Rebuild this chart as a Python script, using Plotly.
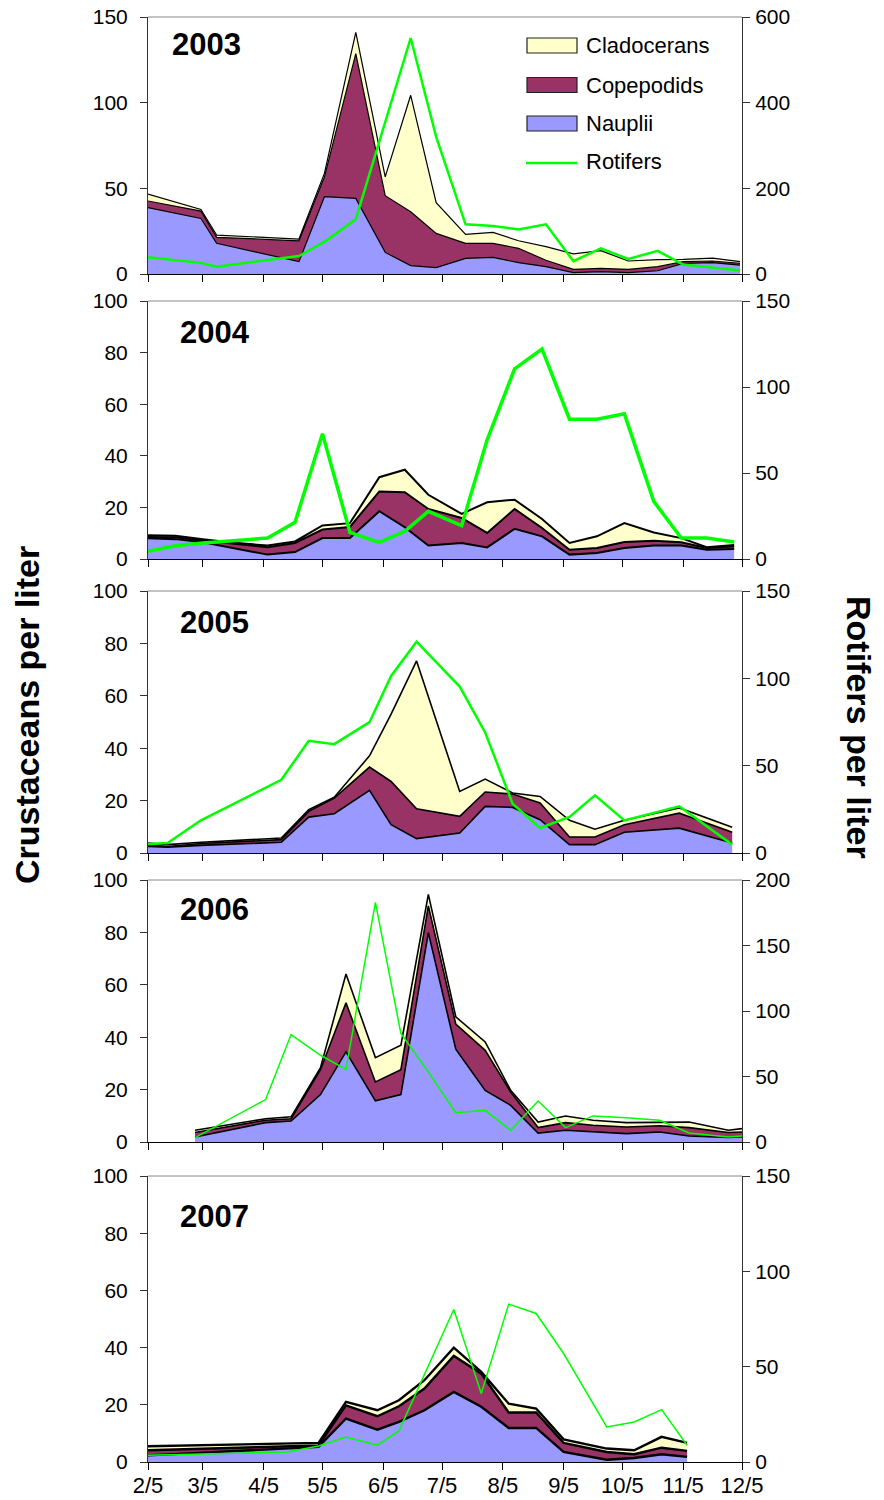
import plotly.graph_objects as go

# ---------------- data ----------------
YEARS = ["2003", "2004", "2005", "2006", "2007"]

dates_2003 = ["02-05", "03-04", "03-12", "04-23", "05-06", "05-22", "06-06", "06-19", "07-02", "07-17",
              "07-31", "08-13", "08-27", "09-10", "09-24", "10-08", "10-23", "11-05", "11-20", "12-04"]
nauplii_2003 = [38.7, 32.4, 17.9, 7.2, 45.1, 44.1, 12.6, 4.9, 3.7, 9.1, 9.7, 6.6, 4.3, 0.8, 1.4, 0.8, 1.9, 6.2, 6.6, 5.2]
copepodids_2003 = [3.9, 4.3, 3.5, 12.2, 11.6, 84.5, 33.1, 31.4, 20.0, 8.8, 8.2, 8.4, 3.7, 1.9, 1.9, 1.9, 2.4, 1.0, 1.0, 1.0]
cladocerans_2003 = [4.0, 1.0, 1.3, 1.0, 2.0, 12.4, 11.0, 68.0, 17.9, 5.2, 6.4, 4.4, 8.0, 9.0, 10.3, 4.9, 4.1, 1.3, 1.7, 1.0]
rot_dates_2003 = ["02-05", "03-04", "03-12", "04-23", "05-07", "05-22", "06-19", "07-02", "07-17", "07-31",
                  "08-13", "08-27", "09-10", "09-24", "10-08", "10-23", "11-05", "11-20", "12-04"]
rotifers_2003 = [39, 26, 17, 42, 78, 128, 551, 320, 116, 112, 104, 116, 30, 60, 35, 54, 22, 15, 8]

dates_2004 = ["02-05", "02-19", "03-05", "03-21", "04-07", "04-21", "05-05", "05-19", "06-03", "06-16", "06-28",
              "07-15", "07-28", "08-11", "08-25", "09-08", "09-22", "10-06", "10-21", "11-04", "11-17", "12-01"]
nauplii_2004 = [8.0, 7.7, 6.5, 4.3, 1.7, 2.7, 8.1, 8.1, 18.5, 12.3, 5.2, 6.2, 4.5, 11.7, 8.8, 1.7, 2.3, 4.3, 5.2, 5.2, 3.6, 3.9]
copepodids_2004 = [0.5, 0.7, 0.7, 1.6, 2.9, 3.5, 3.3, 4.3, 7.7, 13.6, 14.2, 9.7, 5.6, 7.7, 3.2, 1.9, 2.0, 2.3, 1.9, 1.3, 0.7, 1.0]
cladocerans_2004 = [0.7, 0.6, 0.5, 0.4, 0.6, 0.6, 1.6, 1.5, 5.5, 8.7, 5.5, 1.6, 11.9, 3.6, 3.5, 2.6, 4.5, 7.3, 3.2, 1.6, 0.3, 0.5]
rot_dates_2004 = dates_2004
rotifers_2004 = [4.5, 7.7, 9.3, 10.8, 12.2, 21.3, 72.8, 15.5, 9.7, 16.1, 27.7, 19.4, 69.3, 110.5, 122.1,
                 81.3, 81.3, 84.4, 33.5, 12.2, 12.2, 9.9]

dates_2005 = ["02-05", "02-15", "03-04", "04-14", "04-28", "05-11", "05-29", "06-09", "06-22", "07-14",
              "07-27", "08-10", "08-24", "09-08", "09-21", "10-06", "11-03", "11-30"]
nauplii_2005 = [2.5, 2.2, 2.9, 4.1, 13.7, 15.0, 23.9, 10.8, 5.5, 7.6, 17.8, 17.4, 12.7, 3.2, 3.2, 7.9, 9.5, 3.8]
copepodids_2005 = [0.7, 0.3, 0.7, 1.0, 2.2, 6.0, 8.9, 16.5, 11.4, 6.4, 5.5, 5.1, 6.4, 2.9, 2.9, 2.9, 5.7, 4.1]
cladocerans_2005 = [0.6, 0.7, 0.5, 0.6, 0.6, 0.3, 4.3, 25.7, 56.4, 9.5, 4.9, 0.4, 2.5, 6.4, 3.0, 1.7, 2.0, 1.9]
rot_dates_2005 = dates_2005
rotifers_2005 = [5.1, 5.7, 18.7, 41.9, 64.2, 62.3, 74.9, 101.4, 121.0, 95.3, 69.0, 28.2, 14.3, 20.6, 33.0, 18.7, 26.7, 4.8]

dates_2006 = ["03-01", "04-06", "04-19", "05-04", "05-17", "06-01", "06-14", "06-28", "07-12", "07-27",
              "08-09", "08-23", "09-06", "09-20", "10-07", "10-24", "11-08", "11-28", "12-05"]
nauplii_2006 = [1.9, 7.4, 8.0, 18.1, 34.4, 15.7, 18.1, 79.9, 35.4, 19.7, 14.0, 3.4, 4.5, 3.8, 3.2, 3.8, 2.3, 1.7, 1.9]
copepodids_2006 = [1.7, 0.9, 0.9, 9.5, 18.7, 7.2, 9.5, 10.2, 9.6, 15.3, 5.1, 2.1, 2.9, 2.6, 2.5, 2.4, 3.2, 1.9, 1.9]
cladocerans_2006 = [0.9, 0.6, 0.7, 0.8, 11.0, 9.3, 9.3, 4.4, 2.8, 3.2, 0.6, 2.1, 2.5, 1.9, 1.7, 1.4, 2.1, 0.9, 1.3]
rot_dates_2006 = dates_2006
rotifers_2006 = [3.3, 32.4, 82.0, 66.2, 55.5, 182.9, 82.8, 53.5, 22.4, 24.2, 8.9, 31.3, 11.0, 19.9, 18.6, 16.6, 6.9, 3.8, 4.6]

dates_2007 = ["02-05", "05-03", "05-17", "06-02", "06-13", "06-26", "07-11", "07-25", "08-08", "08-22",
              "09-05", "09-27", "10-11", "10-25", "11-07"]
nauplii_2007 = [2.3, 5.3, 15.2, 11.3, 14.0, 18.1, 24.5, 19.3, 11.9, 11.9, 3.5, 0.8, 1.4, 2.7, 1.8]
copepodids_2007 = [1.8, 0.5, 4.6, 4.7, 5.5, 7.6, 12.6, 11.6, 5.4, 5.4, 3.2, 2.7, 1.3, 2.3, 2.1]
cladocerans_2007 = [1.4, 0.9, 1.2, 2.1, 2.1, 2.9, 2.9, 0.6, 3.1, 1.4, 1.2, 1.2, 1.4, 3.8, 2.8]
rot_dates_2007 = ["02-05", "04-17", "05-03", "05-17", "06-02", "06-13", "07-11", "07-25", "08-08", "08-22",
                  "09-05", "09-27", "10-11", "10-25", "11-07"]
rotifers_2007 = [3.5, 5.3, 8.4, 13.1, 8.8, 16.3, 80.0, 35.9, 82.8, 77.9, 56.9, 18.4, 21.0, 27.5, 8.8]

month_ticks = ["02-05", "03-05", "04-05", "05-05", "06-05", "07-05", "08-05", "09-05", "10-05", "11-05", "12-05"]
month_labels = ["2/5", "3/5", "4/5", "5/5", "6/5", "7/5", "8/5", "9/5", "10/5", "11/5", "12/5"]

left_max = [150, 100, 100, 100, 100]
left_ticks = [[0, 50, 100, 150], [0, 20, 40, 60, 80, 100], [0, 20, 40, 60, 80, 100],
              [0, 20, 40, 60, 80, 100], [0, 20, 40, 60, 80, 100]]
right_max = [600, 150, 150, 200, 150]
right_ticks = [[0, 200, 400, 600], [0, 50, 100, 150], [0, 50, 100, 150], [0, 50, 100, 150, 200], [0, 50, 100, 150]]

# ---------------- style ----------------
C_NAUP = "#9999FF"
C_COPE = "#993366"
C_CLAD = "#FFFFCC"
C_ROT = "#00FF00"
FONT = "Liberation Sans, Arial, sans-serif"
outline_w = [1.2, 2.0, 1.6, 1.6, 2.4]
rot_w = [2.5, 3.5, 2.5, 1.5, 1.5]

W, H = 884, 1500
ML, MR, MT, MB = 148, 142, 17, 38
PW = W - ML - MR
PH = H - MT - MB
panels_px = [(17, 274), (301, 559), (591, 853), (880, 1142), (1176, 1462)]
year_px = [(170, 44.5), (178, 332), (178, 622), (178, 910), (178, 1216)]


def px_x(x):
    return (x - ML) / PW


def px_y(y):
    return (H - MB - y) / PH


YR = "2001-"
data = [
    (dates_2003, nauplii_2003, copepodids_2003, cladocerans_2003, rot_dates_2003, rotifers_2003),
    (dates_2004, nauplii_2004, copepodids_2004, cladocerans_2004, rot_dates_2004, rotifers_2004),
    (dates_2005, nauplii_2005, copepodids_2005, cladocerans_2005, rot_dates_2005, rotifers_2005),
    (dates_2006, nauplii_2006, copepodids_2006, cladocerans_2006, rot_dates_2006, rotifers_2006),
    (dates_2007, nauplii_2007, copepodids_2007, cladocerans_2007, rot_dates_2007, rotifers_2007),
]

fig = go.Figure()
layout = dict(
    width=W, height=H, margin=dict(l=ML, r=MR, t=MT, b=MB, autoexpand=False),
    paper_bgcolor="white", plot_bgcolor="white", showlegend=False,
    font=dict(family=FONT, color="black"),
)
shapes = []
annotations = []

for i, (d, na, co, cl, rd, ro) in enumerate(data):
    n = i + 1
    xa = "x" if n == 1 else f"x{n}"
    yl = "y" if n == 1 else f"y{2 * n - 1}"
    yr = f"y{2 * n}"
    xs = [YR + s for s in d]
    for name, vals, col in [("Nauplii", na, C_NAUP), ("Copepodids", co, C_COPE), ("Cladocerans", cl, C_CLAD)]:
        fig.add_trace(go.Scatter(
            x=xs, y=vals, name=name, mode="lines", stackgroup=f"s{n}",
            line=dict(color="black", width=outline_w[i]), fillcolor=col,
            xaxis=xa, yaxis=yl,
        ))
    fig.add_trace(go.Scatter(
        x=[YR + s for s in rd], y=ro, name="Rotifers", mode="lines",
        line=dict(color=C_ROT, width=rot_w[i]), xaxis=xa, yaxis=yr,
    ))

    top, bot = panels_px[i]
    dom = [max(0.0, px_y(bot)), min(1.0, px_y(top))]
    xkey = "xaxis" if n == 1 else f"xaxis{n}"
    ylkey = "yaxis" if n == 1 else f"yaxis{2 * n - 1}"
    yrkey = f"yaxis{2 * n}"
    layout[xkey] = dict(
        domain=[0, 1], anchor=yl, type="date", automargin=False,
        range=[YR + "02-05", YR + "12-05"],
        tickmode="array", tickvals=[YR + t for t in month_ticks], ticktext=month_labels,
        ticks="outside", ticklen=7, tickcolor="black", showline=True, linecolor="black", linewidth=1,
        showgrid=False, zeroline=False, showticklabels=(n == 5), ticklabelstandoff=-3,
        tickfont=dict(size=22, family=FONT, color="black"),
    )
    layout[ylkey] = dict(
        domain=dom, anchor=xa, range=[0, left_max[i]], automargin=False,
        tickmode="array", tickvals=left_ticks[i],
        ticks="outside", ticklen=7, tickcolor="#333", showline=True, linecolor="#333", linewidth=1,
        showgrid=False, zeroline=False, ticklabelstandoff=8,
        tickfont=dict(size=21, family=FONT, color="black"),
    )
    layout[yrkey] = dict(
        overlaying=yl, side="right", anchor=xa, range=[0, right_max[i]], automargin=False,
        tickmode="array", tickvals=right_ticks[i],
        ticks="outside", ticklen=7, tickcolor="#333", showline=True, linecolor="#333", linewidth=1,
        showgrid=False, zeroline=False, ticklabelstandoff=1,
        tickfont=dict(size=21, family=FONT, color="black"),
    )
    # gray top border of the plot area
    shapes.append(dict(type="line", xref="paper", yref="paper", x0=0, x1=1, y0=dom[1], y1=dom[1],
                       line=dict(color="#888888", width=1)))
    yx, yy = year_px[i]
    annotations.append(dict(text="<b>" + YEARS[i] + "</b>", xref="paper", yref="paper",
                            x=px_x(yx), y=px_y(yy), xanchor="left", yanchor="middle", showarrow=False,
                            font=dict(size=31, family=FONT, color="black")))

# manual legend in top panel
legend_items = [("Cladocerans", C_CLAD, 45.5), ("Copepodids", C_COPE, 85), ("Nauplii", C_NAUP, 123.5)]
for name, col, cy in legend_items:
    shapes.append(dict(type="rect", xref="paper", yref="paper",
                       x0=px_x(527), x1=px_x(577), y0=px_y(cy + 7.5), y1=px_y(cy - 7.5),
                       fillcolor=col, line=dict(color="#222", width=1.2)))
    annotations.append(dict(text=name, xref="paper", yref="paper", x=px_x(584), y=px_y(cy),
                            xanchor="left", yanchor="middle", showarrow=False,
                            font=dict(size=22, family=FONT, color="black")))
shapes.append(dict(type="line", xref="paper", yref="paper", x0=px_x(526), x1=px_x(577),
                   y0=px_y(163), y1=px_y(163), line=dict(color=C_ROT, width=2.5)))
annotations.append(dict(text="Rotifers", xref="paper", yref="paper", x=px_x(584), y=px_y(162),
                        xanchor="left", yanchor="middle", showarrow=False,
                        font=dict(size=22, family=FONT, color="black")))

# axis titles
annotations.append(dict(text="<b>Crustaceans per liter</b>", xref="paper", yref="paper",
                        x=px_x(27), y=px_y(715), xanchor="center", yanchor="middle",
                        textangle=-90, showarrow=False, font=dict(size=34, family=FONT, color="black")))
annotations.append(dict(text="<b>Rotifers per liter</b>", xref="paper", yref="paper",
                        x=px_x(859), y=px_y(727), xanchor="center", yanchor="middle",
                        textangle=90, showarrow=False, font=dict(size=34, family=FONT, color="black")))

layout["shapes"] = shapes
layout["annotations"] = annotations
fig.update_layout(**layout)
fig.write_html("out.html", config={"displayModeBar": False},
               post_script="document.body.style.margin='0';document.body.style.padding='0';")
